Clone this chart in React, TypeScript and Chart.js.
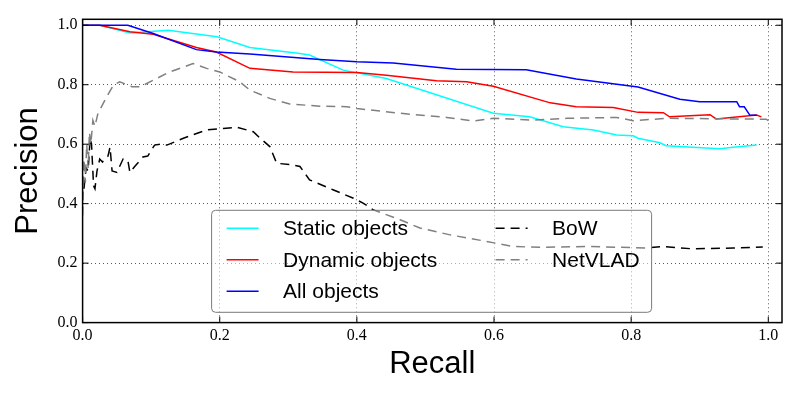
import { useEffect, useRef } from "react";
import { Chart, registerables } from "chart.js";

Chart.register(...registerables);

// tick values on both axes
const recallTicks = [0, 0.2, 0.4, 0.6, 0.8, 1.0];
const precisionTicks = [0, 0.2, 0.4, 0.6, 0.8, 1.0];

const staticRecall = [0, 0.025, 0.069, 0.125, 0.196, 0.244, 0.317, 0.331, 0.38, 0.443, 0.599, 0.652, 0.701, 0.745, 0.779, 0.803, 0.81, 0.842, 0.851, 0.89, 0.91, 0.929, 0.949, 0.983];
const staticPrecision = [1.0, 1.0, 0.974, 0.983, 0.961, 0.925, 0.905, 0.9, 0.849, 0.821, 0.704, 0.692, 0.659, 0.648, 0.631, 0.628, 0.62, 0.605, 0.595, 0.59, 0.587, 0.585, 0.59, 0.597];

const dynamicRecall = [0, 0.025, 0.069, 0.103, 0.166, 0.195, 0.244, 0.307, 0.4, 0.443, 0.516, 0.56, 0.599, 0.682, 0.72, 0.774, 0.81, 0.847, 0.856, 0.915, 0.924, 0.983, 0.99];
const dynamicPrecision = [1.0, 1.0, 0.978, 0.97, 0.925, 0.91, 0.855, 0.843, 0.841, 0.832, 0.813, 0.81, 0.795, 0.739, 0.726, 0.723, 0.707, 0.706, 0.692, 0.699, 0.685, 0.698, 0.692];

const allRecall = [0, 0.066, 0.103, 0.166, 0.195, 0.244, 0.346, 0.4, 0.453, 0.545, 0.647, 0.72, 0.81, 0.871, 0.9, 0.954, 0.958, 0.965, 0.973, 0.983];
const allPrecision = [1.0, 1.0, 0.972, 0.918, 0.91, 0.903, 0.885, 0.877, 0.873, 0.852, 0.85, 0.819, 0.792, 0.751, 0.743, 0.743, 0.726, 0.726, 0.698, 0.697];

const bowRecall = [0.002, 0.005, 0.008, 0.011, 0.013, 0.016, 0.018, 0.021, 0.025, 0.029, 0.032, 0.037, 0.04, 0.043, 0.05, 0.059, 0.066, 0.069, 0.076, 0.088, 0.095, 0.105, 0.113, 0.123, 0.147, 0.181, 0.205, 0.225, 0.249, 0.259, 0.273, 0.283, 0.307, 0.317, 0.331, 0.366, 0.395, 0.409, 0.424, 0.463, 0.492, 0.536, 0.589, 0.628, 0.667, 0.74, 0.822, 0.846, 0.89, 0.949, 0.992];
const bowPrecision = [0.45, 0.52, 0.51, 0.62, 0.6, 0.46, 0.45, 0.51, 0.55, 0.54, 0.55, 0.56, 0.59, 0.51, 0.505, 0.55, 0.545, 0.505, 0.525, 0.557, 0.56, 0.597, 0.6, 0.597, 0.62, 0.648, 0.653, 0.657, 0.642, 0.62, 0.592, 0.536, 0.53, 0.525, 0.48, 0.446, 0.418, 0.402, 0.379, 0.346, 0.318, 0.295, 0.273, 0.256, 0.253, 0.256, 0.251, 0.256, 0.248, 0.251, 0.254];

const netvladRecall = [0, 0.002, 0.004, 0.006, 0.008, 0.01, 0.012, 0.015, 0.018, 0.022, 0.025, 0.035, 0.045, 0.054, 0.072, 0.084, 0.108, 0.127, 0.161, 0.181, 0.2, 0.229, 0.244, 0.273, 0.302, 0.346, 0.385, 0.4, 0.463, 0.531, 0.57, 0.599, 0.657, 0.706, 0.779, 0.803, 0.851, 0.997, 1.002];
const netvladPrecision = [0.36, 0.55, 0.47, 0.6, 0.52, 0.64, 0.6, 0.68, 0.66, 0.7, 0.715, 0.759, 0.799, 0.81, 0.793, 0.793, 0.821, 0.843, 0.871, 0.855, 0.843, 0.81, 0.782, 0.754, 0.735, 0.728, 0.726, 0.72, 0.704, 0.69, 0.678, 0.687, 0.681, 0.687, 0.69, 0.679, 0.687, 0.684, 0.676];

const seriesNames = ["Static objects", "Dynamic objects", "All objects", "BoW", "NetVLAD"];
const seriesColors = ["#00ffff", "#ff0000", "#0000ff", "#000000", "#808080"];
const dashPattern = [9, 6];

function zip(xs: number[], ys: number[]) {
  return xs.map((x, i) => ({ x, y: ys[i] }));
}

// frame with inward ticks (matplotlib classic look) plus the legend inside the plot
const framePlugin = {
  id: "frameAndLegend",
  afterDraw(chart: Chart) {
    const { ctx, chartArea: a } = chart;
    const xs = chart.scales.x;
    const ys = chart.scales.y;
    ctx.save();
    ctx.strokeStyle = "#000";
    ctx.lineWidth = 1;
    ctx.setLineDash([]);
    const tl = 6;
    ctx.beginPath();
    recallTicks.forEach((v) => {
      const px = xs.getPixelForValue(v);
      ctx.moveTo(px, a.bottom);
      ctx.lineTo(px, a.bottom - tl);
      ctx.moveTo(px, a.top);
      ctx.lineTo(px, a.top + tl);
    });
    precisionTicks.forEach((v) => {
      const py = ys.getPixelForValue(v);
      ctx.moveTo(a.left, py);
      ctx.lineTo(a.left + tl, py);
      ctx.moveTo(a.right, py);
      ctx.lineTo(a.right - tl, py);
    });
    ctx.stroke();
    ctx.lineWidth = 1.5;
    ctx.strokeRect(a.left, a.top, a.right - a.left, a.bottom - a.top);

    // legend box
    const bx = a.left + 129;
    const by = a.top + 191;
    const bw = 440;
    const bh = 102;
    ctx.beginPath();
    ctx.roundRect(bx, by, bw, bh, 4);
    ctx.fillStyle = "rgba(255,255,255,0.5)";
    ctx.fill();
    ctx.strokeStyle = "#7a7a7a";
    ctx.lineWidth = 1;
    ctx.stroke();

    ctx.font = '21px "Liberation Sans", Arial, sans-serif';
    ctx.textBaseline = "middle";
    ctx.textAlign = "left";
    const rows = [18, 49.5, 81];
    seriesNames.forEach((name, i) => {
      const col = i < 3 ? 0 : 1;
      const row = i < 3 ? i : i - 3;
      const sx = bx + (col === 0 ? 15 : 284);
      const sy = by + rows[row];
      ctx.beginPath();
      ctx.strokeStyle = seriesColors[i];
      ctx.lineWidth = 1.5;
      ctx.setLineDash(i >= 3 ? dashPattern : []);
      ctx.moveTo(sx, sy);
      ctx.lineTo(sx + 32, sy);
      ctx.stroke();
      ctx.setLineDash([]);
      ctx.fillStyle = "#000";
      ctx.fillText(name, sx + 56.5, sy + 1);
    });
    ctx.restore();
  },
};

export default function App() {
  const canvasRef = useRef<HTMLCanvasElement>(null);
  const chartRef = useRef<Chart | null>(null);

  useEffect(() => {
    if (chartRef.current) {
      chartRef.current.destroy();
    }
    const canvas = canvasRef.current;
    if (!canvas) return;

    const pairs = [
      zip(staticRecall, staticPrecision),
      zip(dynamicRecall, dynamicPrecision),
      zip(allRecall, allPrecision),
      zip(bowRecall, bowPrecision),
      zip(netvladRecall, netvladPrecision),
    ];

    const tickFont = { family: '"Liberation Serif", "Times New Roman", serif', size: 16 };
    const titleFont = { family: '"Liberation Sans", Arial, sans-serif', size: 31 };

    chartRef.current = new Chart(canvas, {
      type: "line",
      data: {
        datasets: pairs.map((pts, i) => ({
          label: seriesNames[i],
          data: pts,
          borderColor: seriesColors[i],
          backgroundColor: seriesColors[i],
          borderWidth: 1.5,
          borderDash: i >= 3 ? dashPattern : [],
          pointRadius: 0,
          tension: 0,
          fill: false,
          order: 5 - i,
        })),
      },
      options: {
        animation: false,
        responsive: true,
        maintainAspectRatio: false,
        layout: { padding: { top: 19.3, right: 18, left: 0, bottom: 0 } },
        plugins: {
          legend: { display: false },
          tooltip: { enabled: false },
        },
        scales: {
          x: {
            type: "linear",
            min: 0,
            max: 1.02,
            afterBuildTicks: (scale: any) => {
              scale.ticks = recallTicks.map((v) => ({ value: v }));
            },
            afterFit: (scale: any) => {
              scale.height = 77.4;
            },
            ticks: {
              color: "#000",
              font: tickFont,
              padding: 4,
              callback: (v: any) => Number(v).toFixed(1),
            },
            grid: {
              color: "rgba(0,0,0,0.65)",
              lineWidth: 1,
              drawTicks: false,
            },
            border: { display: false, dash: [1, 3] },
            title: {
              display: true,
              text: "Recall",
              color: "#000",
              font: titleFont,
              padding: { top: 0, bottom: 17 },
            },
          },
          y: {
            type: "linear",
            min: 0,
            max: 1.02,
            afterBuildTicks: (scale: any) => {
              scale.ticks = precisionTicks.map((v) => ({ value: v }));
            },
            afterFit: (scale: any) => {
              scale.width = 82.6;
            },
            ticks: {
              color: "#000",
              font: tickFont,
              padding: 5,
              callback: (v: any) => Number(v).toFixed(1),
            },
            grid: {
              color: "rgba(0,0,0,0.65)",
              lineWidth: 1,
              drawTicks: false,
            },
            border: { display: false, dash: [1, 3] },
            title: {
              display: true,
              text: "Precision",
              color: "#000",
              font: titleFont,
              padding: { top: 10, bottom: 0 },
            },
          },
        },
      },
      plugins: [framePlugin],
    });

    return () => {
      if (chartRef.current) {
        chartRef.current.destroy();
        chartRef.current = null;
      }
    };
  }, []);

  return (
    <div style={{ position: "absolute", left: 0, top: 0, width: 800, height: 400, background: "#fff" }}>
      <canvas ref={canvasRef} />
    </div>
  );
}
